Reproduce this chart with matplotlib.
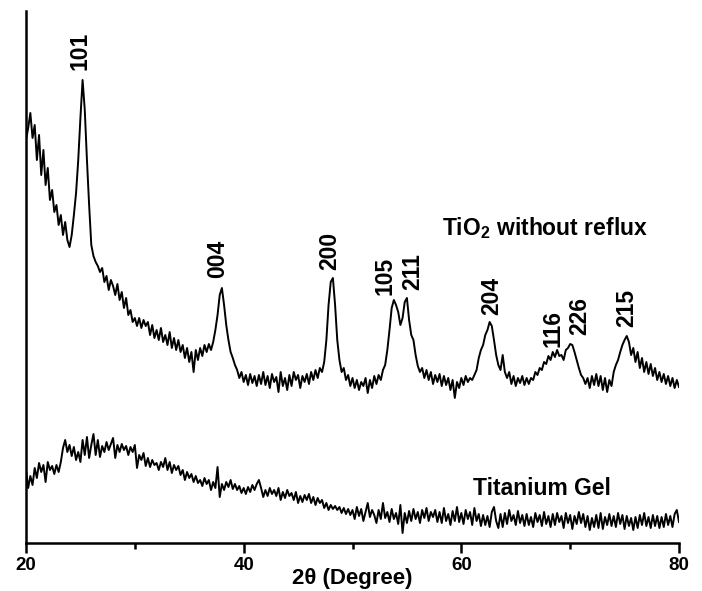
import numpy as np
import matplotlib
matplotlib.use("Agg")
import matplotlib.pyplot as plt
from matplotlib.ticker import MultipleLocator

plt.rcParams['font.family'] = ['Liberation Sans', 'DejaVu Sans']
plt.rcParams['mathtext.default'] = 'regular'

# 2-theta grid (degrees), one reading every 0.2 deg
two_theta = np.linspace(20, 80, 301)

# TiO2 without reflux, intensity (a.u.)
tio2 = [
    403, 415, 430, 405, 418, 383, 408, 368, 393, 358,
    375, 343, 353, 331, 338, 318, 328, 308, 321, 303,
    296, 308, 328, 350, 383, 425, 463, 433, 383, 338,
    298, 287, 281, 277, 271, 275, 261, 267, 253, 263,
    257, 248, 259, 243, 251, 235, 245, 228, 233, 221,
    225, 217, 225, 215, 223, 217, 221, 208, 218, 205,
    213, 203, 215, 201, 208, 198, 211, 195, 205, 193,
    203, 191, 198, 185, 195, 181, 191, 171, 193, 183,
    195, 187, 198, 191, 199, 193, 201, 213, 228, 248,
    255, 238, 218, 203, 191, 185, 178, 173, 165, 171,
    161, 168, 158, 169, 160, 167, 157, 168, 159, 171,
    158, 167, 155, 169, 161, 166, 151, 171, 157, 165,
    153, 168, 157, 171, 163, 168, 155, 167, 161, 169,
    159, 171, 163, 173, 165, 175, 171, 181, 203, 238,
    261, 265, 238, 203, 183, 171, 175, 163, 168, 157,
    165, 155, 163, 153, 161, 157, 165, 150, 163, 155,
    167, 159, 168, 163, 173, 178, 193, 213, 235, 243,
    238, 231, 218, 225, 241, 245, 223, 208, 203, 188,
    177, 171, 175, 165, 173, 163, 171, 159, 168, 161,
    169, 157, 167, 158, 165, 153, 163, 145, 161, 155,
    165, 158, 167, 161, 165, 163, 168, 173, 185, 193,
    198, 208, 213, 221, 217, 203, 188, 178, 173, 188,
    171, 165, 171, 159, 167, 157, 165, 160, 167, 158,
    165, 159, 165, 163, 171, 168, 175, 173, 181, 179,
    187, 183, 191, 186, 193, 187, 188, 183, 193, 195,
    199, 198, 191, 183, 175, 168, 165, 159, 165, 155,
    167, 158, 169, 157, 167, 153, 165, 151, 163, 157,
    171, 178, 183, 191, 198, 203, 207, 201, 188, 195,
    181, 191, 175, 185, 171, 181, 169, 179, 167, 175,
    163, 171, 161, 169, 159, 167, 157, 165, 155, 163,
    156,
]

# Titanium gel, intensity (a.u.)
gel = [
    73, 55, 67, 58, 75, 65, 80, 71, 78, 61,
    81, 73, 77, 69, 78, 71, 81, 95, 103, 91,
    98, 87, 96, 83, 91, 81, 103, 88, 106, 85,
    98, 109, 88, 103, 86, 97, 91, 101, 93, 99,
    105, 85, 98, 91, 99, 93, 97, 88, 96, 91,
    98, 75, 88, 83, 90, 77, 85, 76, 83, 78,
    80, 73, 81, 76, 85, 73, 81, 70, 78, 73,
    77, 68, 73, 63, 71, 65, 69, 61, 67, 60,
    63, 57, 65, 59, 63, 53, 61, 55, 76, 46,
    59, 53, 61, 56, 63, 54, 59, 53, 57, 50,
    55, 49, 56, 51, 58, 53, 59, 63, 55, 46,
    53, 47, 55, 49, 53, 47, 55, 43, 51, 45,
    53, 47, 50, 43, 51, 40, 47, 41, 48, 43,
    49, 40, 46, 38, 45, 40, 43, 35, 40, 33,
    38, 34, 37, 33, 36, 30, 35, 29, 34, 28,
    33, 24, 36, 27, 34, 22, 31, 40, 26, 33,
    28, 20, 33, 24, 40, 25, 31, 21, 34, 24,
    30, 19, 38, 10, 30, 20, 32, 22, 34, 24,
    31, 20, 33, 25, 35, 22, 31, 26, 33, 21,
    31, 20, 35, 22, 29, 18, 32, 22, 36, 21,
    30, 19, 33, 24, 31, 18, 35, 22, 29, 17,
    28, 18, 27, 16, 31, 36, 22, 15, 29, 16,
    30, 19, 33, 22, 28, 18, 32, 20, 28, 17,
    29, 18, 26, 16, 30, 21, 28, 17, 31, 19,
    27, 16, 29, 18, 30, 21, 27, 15, 30, 20,
    28, 14, 27, 19, 31, 20, 29, 16, 27, 13,
    25, 16, 28, 15, 30, 14, 26, 18, 29, 17,
    27, 16, 30, 19, 28, 14, 27, 17, 25, 13,
    26, 15, 28, 18, 30, 17, 26, 15, 28, 17,
    27, 15, 26, 16, 29, 18, 27, 16, 29, 33,
    21,
]

# anatase reflections: label, position (deg), label base height (a.u.)
peak_labels = ['101', '004', '200', '105', '211', '204', '116', '226', '215']
peak_pos = [24.96, 37.6, 47.9, 52.95, 55.5, 62.8, 68.4, 70.9, 75.2]
peak_height = [473, 265, 273, 248, 253, 228, 196, 208, 216]

fig = plt.figure(figsize=(7.02, 5.91), dpi=100)
ax = fig.add_axes([26 / 702, 48 / 591, 653 / 702, 532 / 591])

ax.plot(two_theta, tio2, color='black', lw=1.4)
ax.plot(two_theta, gel, color='black', lw=1.4)

for lab, x, y in zip(peak_labels, peak_pos, peak_height):
    ax.text(x, y, lab, rotation=90, ha='center', va='bottom',
            fontsize=16.5, fontweight='bold')

ax.text(58.2, 308, r'TiO$_\mathregular{2}$ without reflux', fontsize=16.5,
        fontweight='bold', va='baseline', ha='left')
ax.text(61.1, 48, 'Titanium Gel', fontsize=16.5, fontweight='bold',
        va='baseline', ha='left')

ax.set_xlim(20, 80)
ax.set_ylim(0, 532)
ax.set_xticks([20, 40, 60, 80])
ax.xaxis.set_minor_locator(MultipleLocator(10))
ax.set_yticks([])
for side in ['top', 'right']:
    ax.spines[side].set_visible(False)
for side in ['left', 'bottom']:
    ax.spines[side].set_linewidth(1.8)
ax.tick_params(axis='x', which='major', direction='out', length=7, width=1.8,
               labelsize=13.5, pad=3)
ax.tick_params(axis='x', which='minor', direction='out', length=4, width=1.8)
for t in ax.get_xticklabels():
    t.set_fontweight('bold')

fig.text(352 / 702, 7 / 591, '2θ (Degree)', ha='center', va='baseline',
         fontsize=16, fontweight='bold')

fig.savefig('out.png', dpi=100)
